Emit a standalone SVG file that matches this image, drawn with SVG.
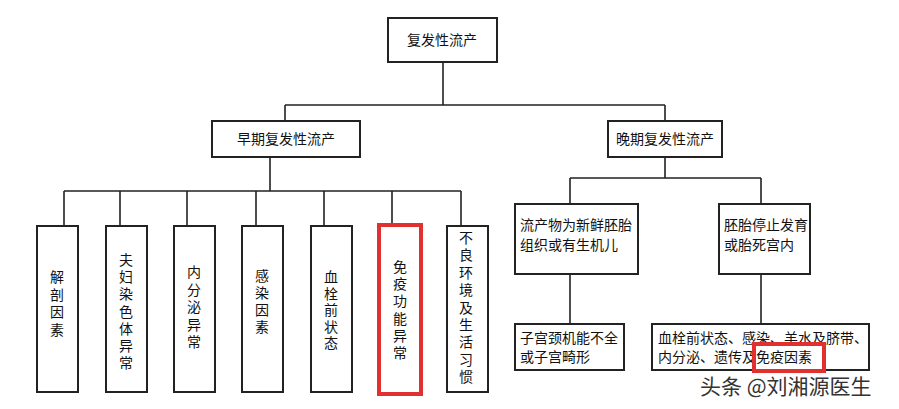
<svg xmlns="http://www.w3.org/2000/svg" width="899" height="409" viewBox="0 0 899 409">
<style>
.b{fill:#fff;stroke:#222;stroke-width:2}
.r{fill:none;stroke:#e03030;stroke-width:4}
.l{stroke:#222;stroke-width:1.6;fill:none}
text{font-family:"Noto Sans CJK SC",sans-serif;font-size:14px;fill:#111}
.v{text-anchor:middle}
</style>
<rect width="899" height="409" fill="#fff"/>
<g id="connectors">
<path class="l" d="M443 62V105M285 105H665M285 105V121M665 105V121M270 157V191M64 191H461M64 191V226M120 191V226M187 191V226M256 191V226M324 191V226M392 191V224M461 191V226M665 157V178M570 178H761M570 178V204M761 178V204M570 274V324M761 274V324"/>
</g>
<g id="root"><rect class="b" x="388" y="18" width="109" height="44"/><text x="442" y="45" class="v">复发性流产</text></g>
<g id="early"><rect class="b" x="212" y="121" width="148" height="36"/><text x="286" y="144" class="v">早期复发性流产</text></g>
<g id="late"><rect class="b" x="608" y="121" width="114" height="36"/><text x="665" y="144" class="v">晚期复发性流产</text></g>
<g id="e1"><rect class="b" x="37" y="226" width="41" height="166"/><text class="v" x="57" y="282"><tspan x="57">解</tspan><tspan x="57" dy="17.7">剖</tspan><tspan x="57" dy="17.7">因</tspan><tspan x="57" dy="17.7">素</tspan></text></g>
<g id="e2"><rect class="b" x="106" y="226" width="41" height="166"/><text class="v" x="126" y="265"><tspan x="126">夫</tspan><tspan x="126" dy="17.2">妇</tspan><tspan x="126" dy="17.2">染</tspan><tspan x="126" dy="17.2">色</tspan><tspan x="126" dy="17.2">体</tspan><tspan x="126" dy="17.2">异</tspan><tspan x="126" dy="17.2">常</tspan></text></g>
<g id="e3"><rect class="b" x="174" y="226" width="41" height="166"/><text class="v" x="194" y="277"><tspan x="194">内</tspan><tspan x="194" dy="17.5">分</tspan><tspan x="194" dy="17.5">泌</tspan><tspan x="194" dy="17.5">异</tspan><tspan x="194" dy="17.5">常</tspan></text></g>
<g id="e4"><rect class="b" x="242" y="226" width="41" height="166"/><text class="v" x="262" y="281"><tspan x="262">感</tspan><tspan x="262" dy="17">染</tspan><tspan x="262" dy="17">因</tspan><tspan x="262" dy="17">素</tspan></text></g>
<g id="e5"><rect class="b" x="311" y="226" width="41" height="166"/><text class="v" x="331" y="282"><tspan x="331">血</tspan><tspan x="331" dy="16.5">栓</tspan><tspan x="331" dy="16.5">前</tspan><tspan x="331" dy="16.5">状</tspan><tspan x="331" dy="16.5">态</tspan></text></g>
<g id="e6"><rect class="b" x="379" y="225" width="42" height="169"/><rect class="r" x="379" y="225" width="42" height="169"/><text class="v" x="400" y="272"><tspan x="400">免</tspan><tspan x="400" dy="17.2">疫</tspan><tspan x="400" dy="17.2">功</tspan><tspan x="400" dy="17.2">能</tspan><tspan x="400" dy="17.2">异</tspan><tspan x="400" dy="17.2">常</tspan></text></g>
<g id="e7"><rect class="b" x="447" y="226" width="41" height="166"/><text class="v" x="466" y="243"><tspan x="466">不</tspan><tspan x="466" dy="17.4">良</tspan><tspan x="466" dy="17.4">环</tspan><tspan x="466" dy="17.4">境</tspan><tspan x="466" dy="17.4">及</tspan><tspan x="466" dy="17.4">生</tspan><tspan x="466" dy="17.4">活</tspan><tspan x="466" dy="17.4">习</tspan><tspan x="466" dy="17.4">惯</tspan></text></g>
<g id="l1"><rect class="b" x="515" y="204" width="123" height="70"/><text x="520" y="230">流产物为新鲜胚胎</text><text x="520" y="250">组织或有生机儿</text></g>
<g id="l2"><rect class="b" x="719" y="204" width="91" height="70"/><text x="724" y="230">胚胎停止发育</text><text x="724" y="250">或胎死宫内</text></g>
<g id="l3"><rect class="b" x="515" y="324" width="109" height="46"/><text x="520" y="343">子宫颈机能不全</text><text x="520" y="362">或子宫畸形</text></g>
<g id="l4"><rect class="b" x="652" y="324" width="217" height="46"/><text x="658" y="343">血栓前状态、感染、羊水及脐带、</text><text x="658" y="362">内分泌、遗传及免疫因素</text><rect class="r" x="754" y="344" width="70" height="27"/></g>
<text x="700" y="394" style="font-size:21px;fill:#333">头条 @刘湘源医生</text>
</svg>
